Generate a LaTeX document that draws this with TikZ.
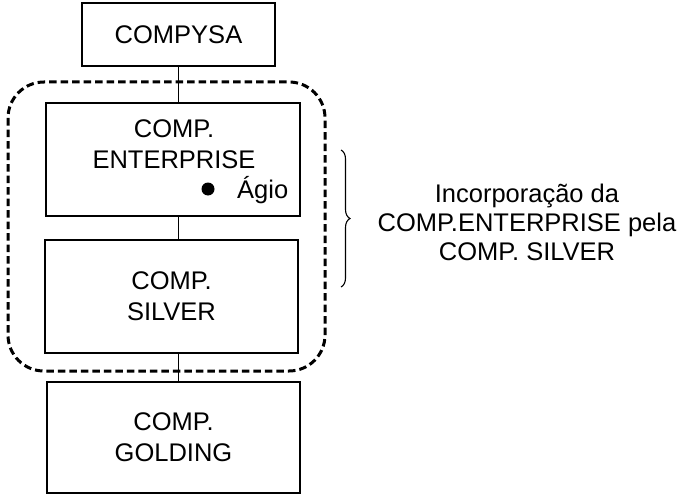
\documentclass[tikz,border=0pt]{standalone}
\usepackage{fontspec}
\setmainfont{Liberation Sans}
\usetikzlibrary{decorations.pathreplacing}

\newcommand{\labelfont}{\fontsize{25.5}{31}\selectfont}
\newcommand{\notefont}{\fontsize{25.5}{29}\selectfont}

\tikzset{
  company/.style={draw, line width=1.4pt, inner sep=0pt, align=center, font=\labelfont},
  link/.style={line width=1pt},
  group/.style={line width=3pt, dash pattern=on 7.5pt off 4pt, rounded corners=36pt},
  plain/.style={inner sep=0pt, align=center, font=\labelfont},
  note/.style={inner sep=0pt, align=center, font=\notefont},
  bracket/.style={line width=1.1pt, decorate, decoration={brace, amplitude=9pt}},
}

\begin{document}
\begin{tikzpicture}[x=1pt, y=-1pt]
  \useasboundingbox (0,0) rectangle (683,495);

  % company boxes
  \node[company, minimum width=193pt, minimum height=63pt] (top) at (178.5,34.5) {COMPYSA};
  \node[company, minimum width=254pt, minimum height=113pt] (ent) at (173,159.5) {};
  \node[company, minimum width=253pt, minimum height=113pt] (sil) at (171.5,296.5) {COMP.\\SILVER};
  \node[company, minimum width=253pt, minimum height=111pt] (gold) at (173.5,437.5) {COMP.\\GOLDING};

  % text inside the merged company
  \node[plain] (entname) at (174,144) {COMP.\\ENTERPRISE};
  \node[circle, fill, inner sep=0pt, minimum size=13pt] (dot) at (208,189) {};
  \node[plain, anchor=west] (agio) at (237,190) {Ágio};

  % ownership chain
  \draw[link] (top.south) -- (top.south |- ent.north);
  \draw[link] (top.south |- ent.south) -- (top.south |- sil.north);
  \draw[link] (top.south |- sil.south) -- (top.south |- gold.north);

  % dashed group around the merged companies
  \draw[group] (8,82) rectangle (325,371);

  % brace and its note
  \coordinate (btop) at (341,150);
  \coordinate (bbot) at (341,287);
  \draw[bracket] (btop) -- (bbot);
  \node[note] (merge) at (527,222) {Incorporação da\\COMP.ENTERPRISE pela\\COMP. SILVER};
\end{tikzpicture}
\end{document}
